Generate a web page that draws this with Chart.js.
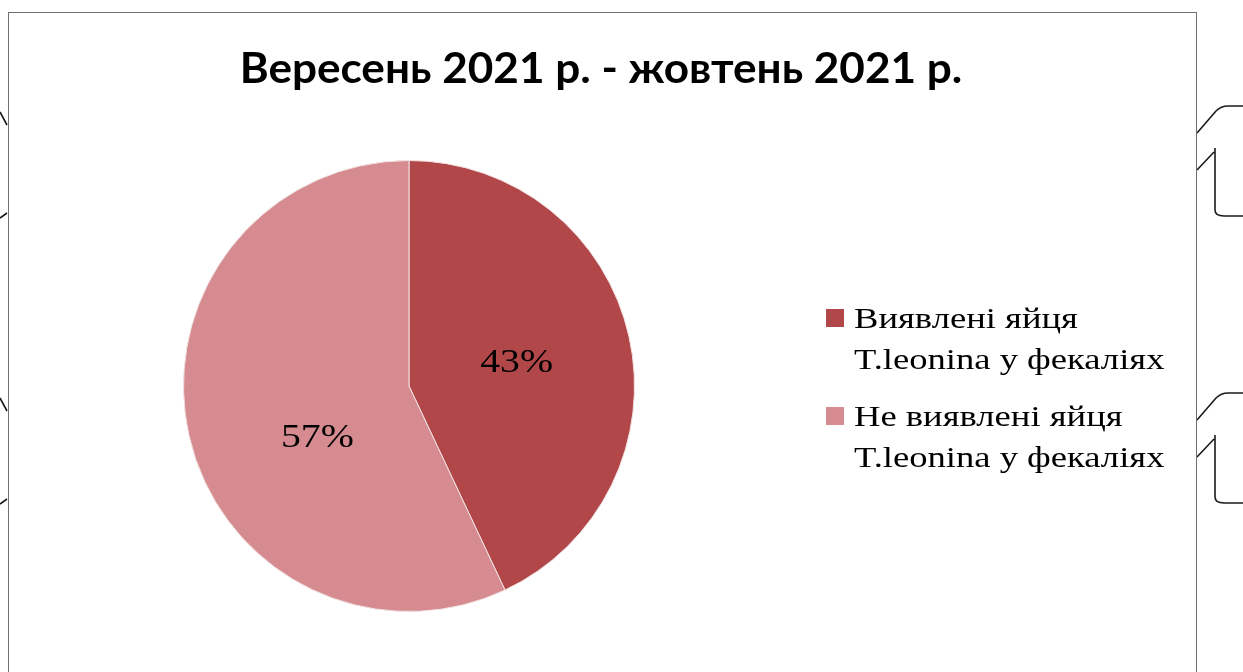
<!DOCTYPE html>
<html lang="uk">
<head>
<meta charset="utf-8">
<title>Вересень 2021 р. - жовтень 2021 р.</title>
<script src="https://cdn.jsdelivr.net/npm/chart.js@4/dist/chart.umd.min.js"></script>
<style>
    html, body { margin: 0; padding: 0; background: #fff; overflow: hidden; }
    body { width: 1243px; height: 672px; position: relative; }
    #frame {
        position: absolute; left: 8px; top: 12px;
        width: 1189px; height: 700px;
        box-sizing: border-box;
        border: 1px solid #6f6f6f;
        background: #fff;
    }
    #frame canvas { display: block; }
    #marks { position: absolute; left: 0; top: 0; }
</style>
</head>
<body>
<svg id="marks" width="1243" height="672">
    <g fill="none" stroke="#1a1a1a" stroke-width="1.6">
        <!-- bracket ends to the left of the frame -->
        <path d="M0 112 L7 125"/>
        <path d="M0 218 L7 213"/>
        <path d="M0 398 L7 411"/>
        <path d="M0 504 L7 499"/>
        <!-- brackets to the right of the frame -->
        <path d="M1197 133 L1216 111 Q1221 106 1228 106 L1243 106"/>
        <path d="M1197 170 L1214 152 M1215 148 L1215 210 Q1215 216 1224 216 L1243 216"/>
        <path d="M1197 420 L1216 398 Q1221 393 1228 393 L1243 393"/>
        <path d="M1197 457 L1214 439 M1215 435 L1215 497 Q1215 503 1224 503 L1243 503"/>
    </g>
</svg>
<div id="frame"><canvas id="pieChart" width="1187" height="698"></canvas></div>
<script>
"use strict";

var chartTitle = 'Вересень 2021 р. - жовтень 2021 р.';
var categories = [
    ['Виявлені яйця', 'T.leonina у фекаліях'],
    ['Не виявлені яйця', 'T.leonina у фекаліях']
];
var shares = [43, 57];
var sliceColors = ['#b2474a', '#d58b8f'];

var EggsPie = function () {

    var serif = '"Liberation Serif", "Times New Roman", serif';

    // captions in this figure are set a little wide
    var wideText = function (ctx, text, x, y, align, stretch) {
        ctx.save();
        ctx.translate(x, y);
        ctx.scale(stretch, 1);
        ctx.textAlign = align;
        ctx.fillText(text, 0, 0);
        ctx.restore();
    };

    // Title and legend are drawn by hand so the pie can sit left of centre
    var titlePlugin = {
        id: 'centerTitle',
        afterDraw: function (chart) {
            var ctx = chart.ctx;
            ctx.save();
            ctx.fillStyle = '#000';
            ctx.font = 'bold 42px Lato, "Open Sans", sans-serif';
            ctx.textBaseline = 'alphabetic';
            wideText(ctx, chartTitle, 592, 70, 'center', 1.05);
            ctx.restore();
        }
    };

    var sideLegend = {
        id: 'sideLegend',
        afterDraw: function (chart) {
            var ctx = chart.ctx;
            var items = chart.legend.legendItems || [];
            var x = 817, top = 296, box = 18, lineGap = 41, itemGap = 98;
            ctx.save();
            ctx.font = '30px ' + serif;
            ctx.textBaseline = 'alphabetic';
            items.forEach(function (item, i) {
                var y = top + i * itemGap;
                ctx.fillStyle = item.fillStyle;
                ctx.fillRect(x, y, box, box);
                ctx.fillStyle = '#000';
                var lines = [].concat(categories[item.index]);
                lines.forEach(function (line, j) {
                    wideText(ctx, line, x + 28, y + 19 + j * lineGap, 'left', 1.22);
                });
            });
            ctx.restore();
        }
    };

    // Percentage written inside each slice, nudged the way the original labels sit
    var sliceLabels = {
        id: 'sliceLabels',
        afterDatasetsDraw: function (chart, args, opts) {
            var ctx = chart.ctx;
            var meta = chart.getDatasetMeta(0);
            var nudge = opts.nudge || [];
            ctx.save();
            ctx.font = '34px ' + serif;
            ctx.fillStyle = '#000';
            ctx.textBaseline = 'middle';
            meta.data.forEach(function (arc, i) {
                var p = arc.getProps(['x', 'y', 'startAngle', 'endAngle', 'outerRadius'], true);
                var mid = (p.startAngle + p.endAngle) / 2;
                var r = p.outerRadius * 0.48;
                var d = nudge[i] || [0, 0];
                wideText(ctx, shares[i] + '%',
                    p.x + Math.cos(mid) * r + d[0],
                    p.y + Math.sin(mid) * r + d[1], 'center', 1.17);
            });
            ctx.restore();
        }
    };

    var initChart = function () {
        var ctx = document.getElementById('pieChart');

        new Chart(ctx, {
            type: 'pie',
            data: {
                labels: categories.map(function (c) { return c.join(' '); }),
                datasets: [{
                    data: shares,
                    backgroundColor: sliceColors,
                    borderColor: '#f2e2e2',
                    borderWidth: 1
                }]
            },
            options: {
                responsive: false,
                animation: false,
                layout: {
                    padding: { left: 174, right: 561, top: 147, bottom: 99 }
                },
                plugins: {
                    legend: { display: false },
                    title: { display: false },
                    tooltip: { enabled: false },
                    sliceLabels: { nudge: [[2, 1], [14, 28]] }
                }
            },
            plugins: [sliceLabels, titlePlugin, sideLegend]
        });
    };

    return {
        init: function () {
            initChart();
        }
    };

}();

EggsPie.init();
</script>
</body>
</html>
